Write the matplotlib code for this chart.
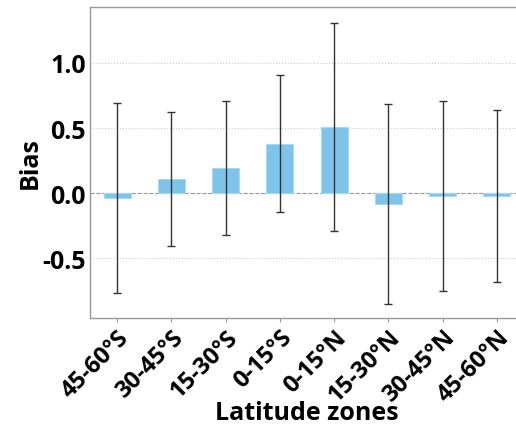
import matplotlib
matplotlib.use("Agg")
import matplotlib.pyplot as plt
import numpy as np

zones = ["45-60°S", "30-45°S", "15-30°S", "0-15°S", "0-15°N", "15-30°N", "30-45°N", "45-60°N"]
bias = [-0.04, 0.105, 0.19, 0.38, 0.51, -0.085, -0.025, -0.02]
err = [0.73, 0.515, 0.515, 0.525, 0.80, 0.77, 0.73, 0.66]

plt.rcParams['font.family'] = ['Open Sans', 'DejaVu Sans']

fig = plt.figure(figsize=(5.16, 4.31), dpi=100)
ax = fig.add_axes([90/516, 1 - 319/431, (524 - 90)/516, (319 - 8)/431])

x = np.arange(len(zones))
ax.bar(x, bias, width=0.5, color='#7DC3EA', edgecolor='#A9D8F2', linewidth=0.8, zorder=2)
ax.errorbar(x, bias, yerr=err, fmt='none', ecolor='#333333', elinewidth=1.0, capsize=3, capthick=1.0, zorder=3)
ax.axhline(0, color='#999999', linestyle='--', linewidth=0.8, zorder=1)

ax.set_xlim(-0.5, 7.5)
ax.set_ylim(-0.96, 1.43)
ax.set_yticks([-0.5, 0.0, 0.5, 1.0])
ax.set_yticklabels(["-0.5", "0.0", "0.5", "1.0"])
ax.yaxis.grid(True, linestyle=':', color='#cccccc', linewidth=0.8, zorder=0)
ax.set_axisbelow(True)

ax.set_xticks(x)
ax.set_xticklabels(zones, rotation=45, ha='right', rotation_mode='anchor', fontsize=17, fontweight='bold')
for lab in ax.get_yticklabels():
    lab.set_fontsize(18)
    lab.set_fontweight('bold')

ax.tick_params(axis='x', length=3, color='#999999', pad=2)
ax.tick_params(axis='y', length=0, pad=3)

for s in ['left', 'bottom', 'top', 'right']:
    ax.spines[s].set_color('#999999')
    ax.spines[s].set_linewidth(1.0)

ax.set_xlabel("Latitude zones", fontsize=18, fontweight='bold')
ax.xaxis.set_label_coords(0.5, -0.265)
ax.set_ylabel("Bias", fontsize=18, fontweight='bold', labelpad=0)

fig.savefig("out.png", dpi=100)
